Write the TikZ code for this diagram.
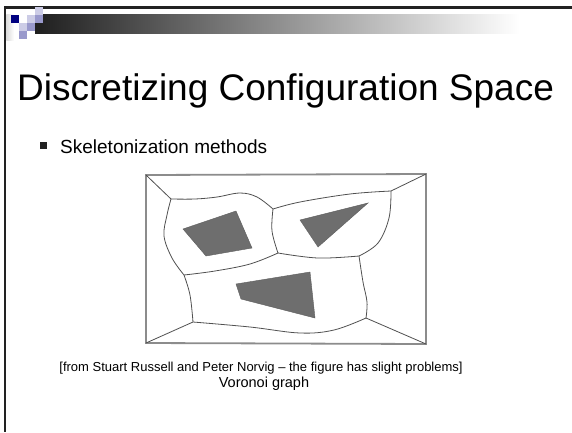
\documentclass[tikz,border=0pt]{standalone}
\usepackage{fontspec}
\setmainfont{Liberation Sans}
\definecolor{navy}{HTML}{000080}
\definecolor{lav}{HTML}{CCCCE6}
\definecolor{lavmid}{HTML}{9999CC}
\definecolor{frame}{HTML}{222222}
\definecolor{edgegray}{HTML}{505050}
\definecolor{rimgray}{HTML}{8C8C8C}
\definecolor{obst}{HTML}{6E6E6E}
\tikzset{
  vedge/.style={draw=edgegray, line width=0.8pt, line join=round},
  obstacle/.style={fill=obst, draw=obst!85!black, line width=0.4pt},
  tile/.style={draw=none},
}
\begin{document}
\begin{tikzpicture}[x=1pt, y=-1pt]
\useasboundingbox (0,0) rectangle (572,432);
\fill[white] (0,0) rectangle (572,432);

% slide frame
\fill[frame] (4,6) rectangle (572,8.5);
\fill[frame] (4,6) rectangle (6.3,432);

% header bar
\shade[left color=black!88, right color=white] (35,14) rectangle (520,33);
\fill[white] (520,14) rectangle (572,33);
\shade[left color=black!14, right color=white] (6.3,14) rectangle (14,40);

% corner tiles
\fill[tile, navy]   (11,15) rectangle (19,23);
\fill[tile, lav]    (35,7)  rectangle (43,15);
\fill[tile, lavmid] (35,15) rectangle (43,23);
\fill[tile, lav]    (27,15) rectangle (35,23);
\fill[tile, lav]    (19,23) rectangle (27,31);
\fill[tile, lavmid] (27,23) rectangle (35,31);
\fill[tile, lavmid] (19,31) rectangle (27,39);

% title and bullet
\node[anchor=base west, inner sep=0, font=\fontsize{37}{41}\selectfont] (title) at (17,100) {Discretizing Configuration Space};
\fill[frame] (40,142) rectangle (47,149);
\node[anchor=base west, inner sep=0, font=\fontsize{19}{22}\selectfont] (item) at (60,153) {Skeletonization methods};

% workspace boundary
\coordinate (TL) at (146,175);
\coordinate (TR) at (426,174);
\coordinate (BR) at (426,344);
\coordinate (BL) at (146,343);
\draw[rimgray, line width=1.8pt] (TL) -- (TR) -- (BR) -- (BL) -- cycle;

% obstacles
\path[obstacle] (183,229) -- (236,211) -- (252,248) -- (206,256) -- cycle;
\path[obstacle] (300,220) -- (368,203) -- (318,247) -- cycle;
\path[obstacle] (236,284) -- (310,272) -- (315,318) -- (241,299) -- cycle;

% Voronoi vertices
\coordinate (A) at (171,199);
\coordinate (B) at (273,209);
\coordinate (C) at (184,275);
\coordinate (D) at (193,322);
\coordinate (E) at (391,191);
\coordinate (F) at (359,256);
\coordinate (G) at (278,253);
\coordinate (H) at (366,318);

% Voronoi edges
\draw[vedge] (TL) -- (A);
\draw[vedge] plot[smooth, tension=0.6] coordinates {(A) (195,199) (217,197) (240,193) (257,197) (B)};
\draw[vedge] plot[smooth, tension=0.6] coordinates {(A) (167,215) (164,236) (172,258) (C)};
\draw[vedge] plot[smooth, tension=0.6] coordinates {(B) (300,202) (350,194) (E)};
\draw[vedge] (E) -- (TR);
\draw[vedge] plot[smooth, tension=0.6] coordinates {(E) (389,218) (378,243) (F)};
\draw[vedge] plot[smooth, tension=0.6] coordinates {(B) (272,231) (G)};
\draw[vedge] plot[smooth, tension=0.6] coordinates {(G) (318,258) (F)};
\draw[vedge] plot[smooth, tension=0.6] coordinates {(G) (250,264) (215,271) (C)};
\draw[vedge] plot[smooth, tension=0.6] coordinates {(C) (190,295) (D)};
\draw[vedge] (D) -- (BL);
\draw[vedge] plot[smooth, tension=0.6] coordinates {(D) (250,327) (300,333) (334,330) (H)};
\draw[vedge] plot[smooth, tension=0.6] coordinates {(F) (363,282) (367,302) (H)};
\draw[vedge] (H) -- (BR);

% captions
\node[anchor=base, inner sep=0, font=\fontsize{13}{15}\selectfont] (credit) at (261,371) {[from Stuart Russell and Peter Norvig – the figure has slight problems]};
\node[anchor=base, inner sep=0, font=\fontsize{14.5}{17}\selectfont] (label) at (264,387) {Voronoi graph};
\end{tikzpicture}
\end{document}
